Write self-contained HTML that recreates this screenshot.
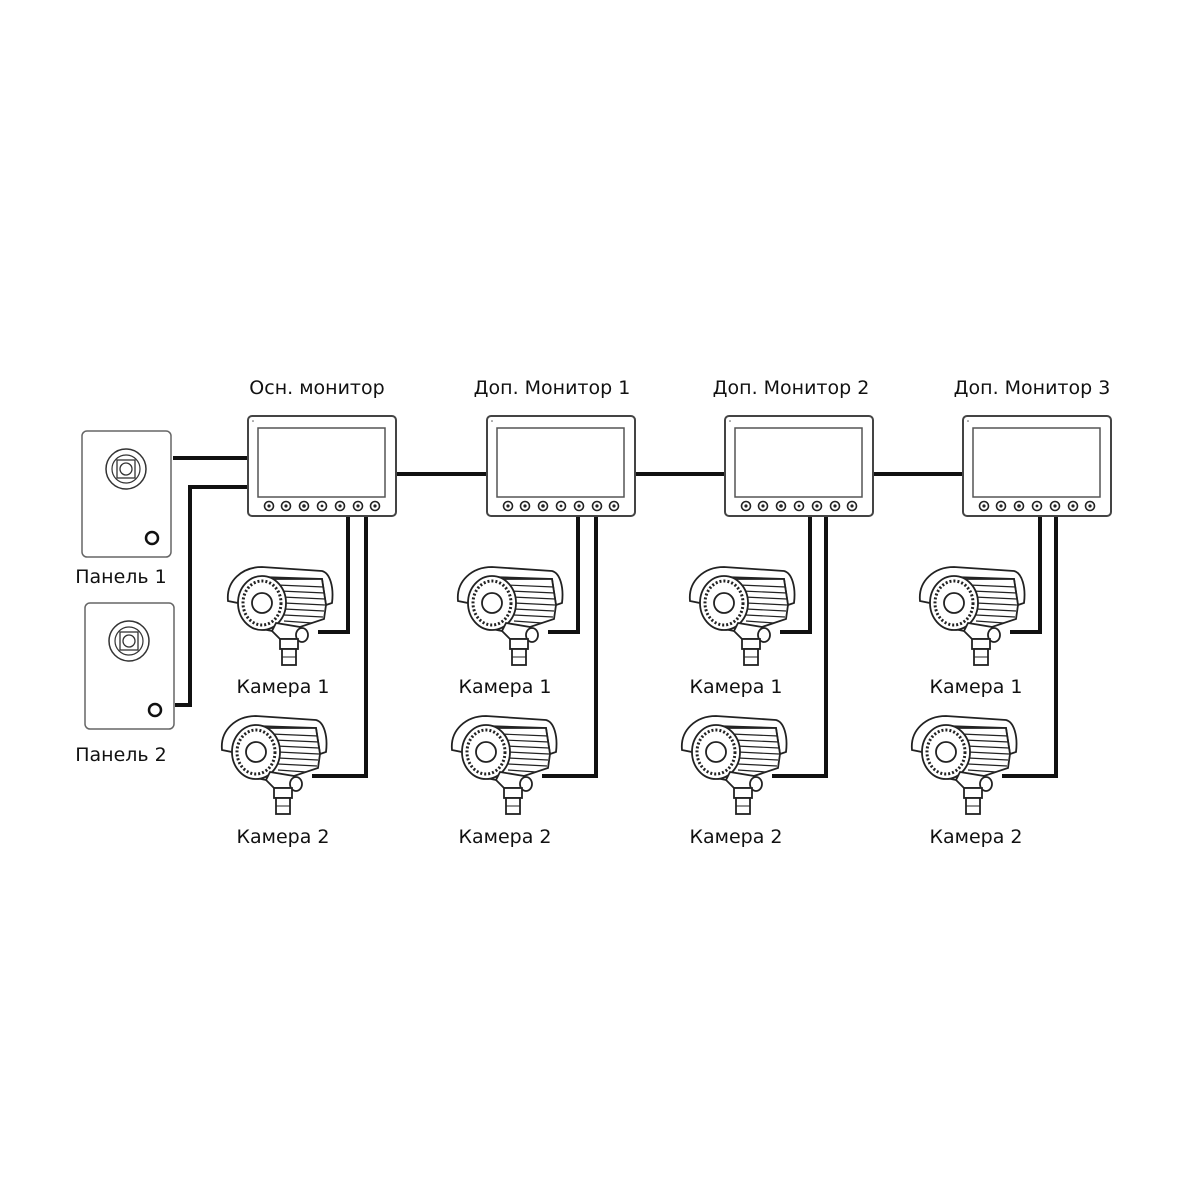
<!DOCTYPE html>
<html><head><meta charset="utf-8"><style>
html,body{margin:0;padding:0;background:#fff;}
svg{display:block}
text{font-family:"DejaVu Sans","Liberation Sans",sans-serif;font-size:19px;fill:#111;text-anchor:middle}
</style></head><body>
<svg width="1200" height="1200" viewBox="0 0 1200 1200" xmlns="http://www.w3.org/2000/svg">
<defs>
<g id="mon">
  <rect x="0" y="0" width="148" height="100" rx="4" fill="#fff" stroke="#444" stroke-width="2"/>
  <rect x="10" y="12" width="127" height="69" fill="#fff" stroke="#555" stroke-width="1.5"/>
  <circle cx="5" cy="5" r="0.8" fill="#555"/>
  <g fill="#fff" stroke="#222" stroke-width="1.6">
    <circle cx="21" cy="90" r="4.5"/><circle cx="38" cy="90" r="4.5"/><circle cx="56" cy="90" r="4.5"/>
    <circle cx="74" cy="90" r="4.5"/><circle cx="92" cy="90" r="4.5"/><circle cx="110" cy="90" r="4.5"/><circle cx="127" cy="90" r="4.5"/>
  </g>
  <g fill="#222"><circle cx="21" cy="90" r="1.6"/><circle cx="38" cy="90" r="1.6"/><circle cx="56" cy="90" r="1.8"/><circle cx="74" cy="90" r="1.4"/><circle cx="92" cy="90" r="1.6"/><circle cx="110" cy="90" r="1.6"/><circle cx="127" cy="90" r="1.6"/></g>
</g>
<g id="cam" fill="#fff" stroke="#222" stroke-width="1.8">
  <path d="M6 38 C4 18 20 4 40 4 L100 8 C108 10 112 24 110 40 L104 42 L100 16 L40 14 C28 16 18 26 16 40 Z"/>
  <path d="M30 16 L100 16 L104 42 L102 56 L60 70 L40 66 Z"/>
  <g stroke-width="1.2">
    <line x1="55" y1="22" x2="102" y2="24"/><line x1="58" y1="28" x2="103" y2="30"/><line x1="60" y1="34" x2="103" y2="36"/>
    <line x1="62" y1="40" x2="103" y2="42"/><line x1="62" y1="46" x2="102" y2="48"/><line x1="62" y1="52" x2="101" y2="54"/>
    <line x1="62" y1="58" x2="90" y2="60"/>
  </g>
  <ellipse cx="40" cy="40" rx="24" ry="27"/>
  <ellipse cx="40" cy="40" rx="19" ry="22" stroke-dasharray="2 2" stroke-width="3"/>
  <circle cx="40" cy="40" r="10"/>
  <path d="M54 60 L50 68 L58 76 L76 76 L78 64 Z"/>
  <ellipse cx="80" cy="72" rx="6" ry="7"/>
  <rect x="58" y="76" width="18" height="10"/>
  <rect x="60" y="86" width="14" height="16"/>
  <line x1="60" y1="94" x2="74" y2="94" stroke-width="1"/>
</g>
<g id="panel">
  <rect x="0" y="0" width="89" height="126" rx="5" fill="#fff" stroke="#666" stroke-width="1.5"/>
  <circle cx="44" cy="38" r="20" fill="#fff" stroke="#333" stroke-width="1.5"/>
  <circle cx="44" cy="38" r="14" fill="#fff" stroke="#333" stroke-width="1.2"/>
  <rect x="35" y="29" width="18" height="18" fill="#fff" stroke="#333" stroke-width="1.3"/>
  <circle cx="44" cy="38" r="6" fill="#fff" stroke="#333" stroke-width="1.3"/>
  <circle cx="70" cy="107" r="6" fill="#fff" stroke="#111" stroke-width="2.5"/>
</g>
</defs>

<g stroke="#111" stroke-width="4" fill="none">
  <line x1="173" y1="458" x2="248" y2="458"/>
  <polyline points="175,705 190,705 190,487 248,487"/>
  <line x1="396" y1="474" x2="487" y2="474"/>
  <line x1="634" y1="474" x2="725" y2="474"/>
  <line x1="872" y1="474" x2="963" y2="474"/>
  <polyline points="348,516 348,632 318,632"/>
  <polyline points="366,516 366,776 312,776"/>
  <polyline points="578,516 578,632 548,632"/>
  <polyline points="596,516 596,776 542,776"/>
  <polyline points="810,516 810,632 780,632"/>
  <polyline points="826,516 826,776 772,776"/>
  <polyline points="1040,516 1040,632 1010,632"/>
  <polyline points="1056,516 1056,776 1002,776"/>
</g>

<use href="#panel" x="82" y="431"/>
<use href="#panel" x="85" y="603"/>

<use href="#mon" x="248" y="416"/>
<use href="#mon" x="487" y="416"/>
<use href="#mon" x="725" y="416"/>
<use href="#mon" x="963" y="416"/>

<use href="#cam" x="222" y="563"/>
<use href="#cam" x="216" y="712"/>
<use href="#cam" x="452" y="563"/>
<use href="#cam" x="446" y="712"/>
<use href="#cam" x="684" y="563"/>
<use href="#cam" x="676" y="712"/>
<use href="#cam" x="914" y="563"/>
<use href="#cam" x="906" y="712"/>

<text x="317" y="394">Осн. монитор</text>
<text x="552" y="394">Доп. Монитор 1</text>
<text x="791" y="394">Доп. Монитор 2</text>
<text x="1032" y="394">Доп. Монитор 3</text>
<text x="121" y="583">Панель 1</text>
<text x="121" y="761">Панель 2</text>
<text x="283" y="693">Камера 1</text>
<text x="283" y="843">Камера 2</text>
<text x="505" y="693">Камера 1</text>
<text x="505" y="843">Камера 2</text>
<text x="736" y="693">Камера 1</text>
<text x="736" y="843">Камера 2</text>
<text x="976" y="693">Камера 1</text>
<text x="976" y="843">Камера 2</text>
</svg>
</body></html>
